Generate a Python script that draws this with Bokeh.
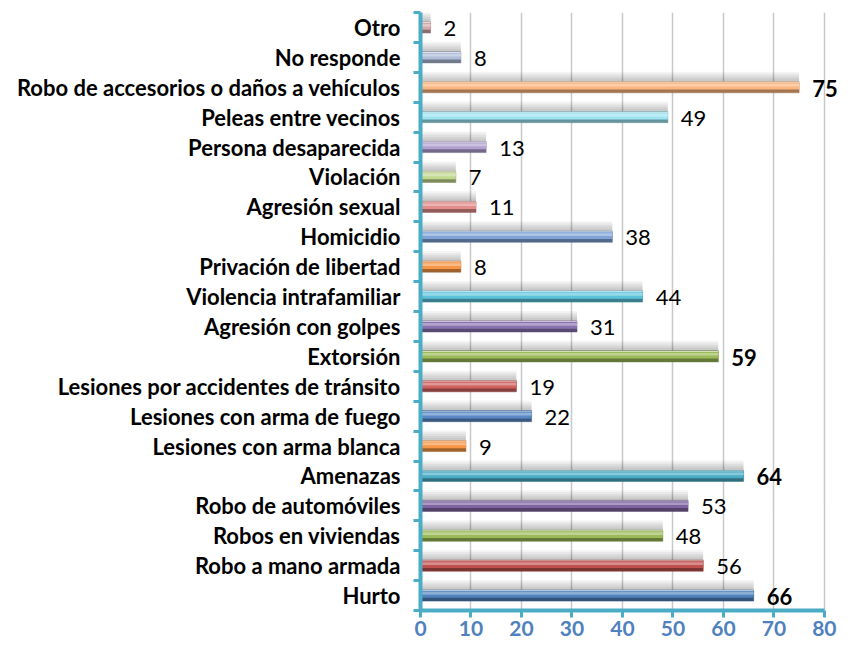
from bokeh.plotting import figure
from bokeh.models import Range1d, FixedTicker, LabelSet, ColumnDataSource
from bokeh.core.properties import value
from bokeh.embed import file_html
from bokeh.resources import INLINE

categories = ["Hurto", "Robo a mano armada", "Robos en viviendas", "Robo de automóviles",
              "Amenazas", "Lesiones con arma blanca", "Lesiones con arma de fuego",
              "Lesiones por accidentes de tránsito", "Extorsión", "Agresión con golpes",
              "Violencia intrafamiliar", "Privación de libertad", "Homicidio",
              "Agresión sexual", "Violación", "Persona desaparecida", "Peleas entre vecinos",
              "Robo de accesorios o daños a vehículos", "No responde", "Otro"]
values = [66, 56, 48, 53, 64, 9, 22, 19, 59, 31, 44, 8, 38, 11, 7, 13, 49, 75, 8, 2]
bar_colors = ["#4F81BD", "#C0504D", "#9BBB59", "#8064A2", "#4BACC6", "#F79646",
              "#5A8AC6", "#D0605D", "#9BBB59", "#8A72B0", "#5CC3DB", "#F79646",
              "#7FA3D6", "#E38E8B", "#C2D88F", "#B1A0D0", "#9EE4F2", "#FBB57E",
              "#AFBDD8", "#D4A9AA"]
x_ticks = [0, 10, 20, 30, 40, 50, 60, 70, 80]

AXIS = "#4BACC6"
FONT = "Lato"


def mix(c, t, f):
    r, g, b = int(c[1:3], 16), int(c[3:5], 16), int(c[5:7], 16)
    r = int(r + (t - r) * f); g = int(g + (t - g) * f); b = int(b + (t - b) * f)
    return "#%02x%02x%02x" % (r, g, b)


n = len(categories)
ys = list(range(n))
top4 = sorted(values)[-4:]

p = figure(width=837, height=646, output_backend="svg", toolbar_location=None,
           x_range=Range1d(0, 82.6), y_range=Range1d(-0.5, n - 0.5),
           min_border_left=420, min_border_right=0, min_border_top=12, min_border_bottom=36)
p.outline_line_color = None
p.background_fill_color = "white"
p.border_fill_color = "white"

# grid
p.ygrid.grid_line_color = None
p.xgrid.ticker = FixedTicker(ticks=x_ticks[1:])
p.xgrid.grid_line_color = "#C8C8C8"
p.xgrid.grid_line_width = 1.5
p.xgrid.bounds = (0, 80)

# axes
p.xaxis.ticker = FixedTicker(ticks=x_ticks)
p.xaxis.bounds = (0, 80)
p.xaxis.axis_line_color = AXIS
p.xaxis.axis_line_width = 4
p.xaxis.major_tick_line_color = AXIS
p.xaxis.major_tick_line_width = 3
p.xaxis.major_tick_out = 7
p.xaxis.major_tick_in = 0
p.xaxis.minor_tick_line_color = None
p.xaxis.major_label_standoff = 3
p.xaxis.major_label_text_font = FONT
p.xaxis.major_label_text_font_style = "bold"
p.xaxis.major_label_text_font_size = "21px"
p.xaxis.major_label_text_color = "#4F81BD"

boundaries = [i - 0.5 for i in range(n + 1)]
p.yaxis.ticker = FixedTicker(ticks=ys, minor_ticks=boundaries)
p.yaxis.major_label_overrides = {i: c for i, c in zip(ys, categories)}
p.yaxis.axis_line_color = AXIS
p.yaxis.axis_line_width = 4
p.yaxis.minor_tick_line_color = AXIS
p.yaxis.minor_tick_line_width = 3
p.yaxis.minor_tick_out = 7
p.yaxis.minor_tick_in = 0
p.yaxis.major_tick_line_color = None
p.yaxis.major_tick_out = 7
p.yaxis.major_tick_in = 0
p.yaxis.major_label_standoff = 13
p.yaxis.major_label_text_font = FONT
p.yaxis.major_label_text_font_style = "bold"
p.yaxis.major_label_text_font_size = "22px"
p.yaxis.major_label_text_color = "black"

# bar shadows
for hi in [0.52, 0.46, 0.40, 0.34, 0.28]:
    lo = 0.18
    p.hbar(y=[y + (lo + hi) / 2 for y in ys], height=hi - lo, left=0, right=values,
           color="black", alpha=0.045, line_color=None)

# bars (cylinder-like shading)
dark = [mix(c, 0, 0.35) for c in bar_colors]
light = [mix(c, 255, 0.35) for c in bar_colors]
top = [mix(c, 255, 0.55) for c in bar_colors]
p.hbar(y=ys, height=0.37, left=0, right=values, fill_color=dark, line_color=dark, line_width=0.5)
p.hbar(y=[y + 0.04 for y in ys], height=0.23, left=0, right=values, fill_color=bar_colors, line_color=None)
p.hbar(y=[y + 0.07 for y in ys], height=0.09, left=0, right=values, fill_color=light, line_color=None)
p.hbar(y=[y + 0.165 for y in ys], height=0.035, left=0, right=values, fill_color=top, line_color=None)

# value labels
norm = ColumnDataSource(dict(x=[v for v in values if v not in top4],
                             y=[y for y, v in zip(ys, values) if v not in top4],
                             t=[str(v) for v in values if v not in top4]))
bold = ColumnDataSource(dict(x=[v for v in values if v in top4],
                             y=[y for y, v in zip(ys, values) if v in top4],
                             t=[str(v) for v in values if v in top4]))
p.add_layout(LabelSet(x="x", y="y", text="t", source=norm, x_offset=13, y_offset=-1,
                      text_baseline="middle", text_font=value(FONT), text_font_size="22px",
                      text_color="black"))
p.add_layout(LabelSet(x="x", y="y", text="t", source=bold, x_offset=13, y_offset=-1,
                      text_baseline="middle", text_font=value(FONT), text_font_size="22px",
                      text_font_style="bold", text_color="black"))

open("out.html", "w").write(file_html(p, INLINE))
